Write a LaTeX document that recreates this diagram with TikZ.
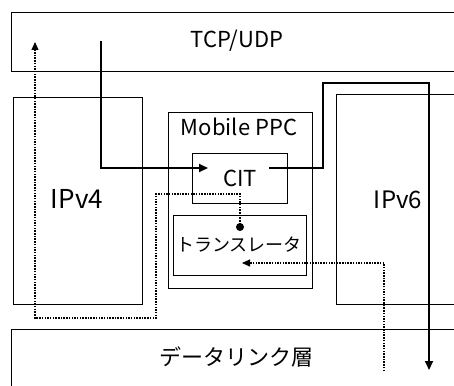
\documentclass[tikz,border=0pt]{standalone}
\usepackage{fontspec}
\setmainfont{Noto Sans CJK JP}
\usetikzlibrary{arrows.meta}
\begin{document}
\begin{tikzpicture}[x=1pt,y=-1pt,
  box/.style={draw,line width=0.9pt,rectangle,inner sep=0pt},
  lbl/.style={inner sep=0pt,font=\fontsize{22}{22}\selectfont},
  flow/.style={line width=2pt,-{Triangle[length=9pt,width=8pt]}},
  dotflow/.style={line width=1.1pt,dash pattern=on 1.5pt off 1.2pt,-{Triangle[length=8pt,width=7pt]}}]
\useasboundingbox (0,0) rectangle (454,385);
\clip (0,0) rectangle (454,385);
% boxes
\draw[box] (11,12) rectangle (480,71);
\node[lbl] (tcp) at (237,41) {TCP/UDP};
\draw[box] (13,97) rectangle (142,304);
\node[lbl,font=\fontsize{26}{26}\selectfont] (ipv4) at (77,199) {IPv4};
\draw[box] (336,94) rectangle (480,304);
\node[lbl,font=\fontsize{24}{24}\selectfont] (ipv6) at (398,200) {IPv6};
\draw[box] (11,329) rectangle (480,400);
\node[lbl] (dl) at (236,357) {データリンク層};
\draw[box] (168,112) rectangle (312,288);
\node[lbl] (ppc) at (239,127) {Mobile PPC};
\draw[box] (192,153) rectangle (287,203);
\node[lbl] (cit) at (240,178) {CIT};
\draw[box] (173,215) rectangle (306,275);
\node[lbl,font=\fontsize{18}{18}\selectfont] (tr) at (239,245) {トランスレータ};
% coordinates
\coordinate (a0) at (101,41);
\coordinate (a1) at (101,168);
\coordinate (a2) at (208,168);
\coordinate (b0) at (269,168);
\coordinate (b1) at (323,168);
\coordinate (b2) at (323,83);
\coordinate (b3) at (429,83);
\coordinate (b4) at (429,370);
\coordinate (c0) at (240,227);
\coordinate (c1) at (240,194);
\coordinate (c2) at (156,194);
\coordinate (c3) at (156,318);
\coordinate (c4) at (35,318);
\coordinate (c5) at (35,42);
\coordinate (d0) at (384,371);
\coordinate (d1) at (384,263);
\coordinate (d2) at (242,263);
% flows
\draw[flow] (a0) -- (a1) -- (a2);
\draw[flow] (b0) -- (b1) -- (b2) -- (b3) -- (b4);
\draw[dotflow] (c0) -- (c1) -- (c2) -- (c3) -- (c4) -- (c5);
\fill (c0) circle (4pt);
\draw[dotflow] (d0) -- (d1) -- (d2);
\end{tikzpicture}
\end{document}
